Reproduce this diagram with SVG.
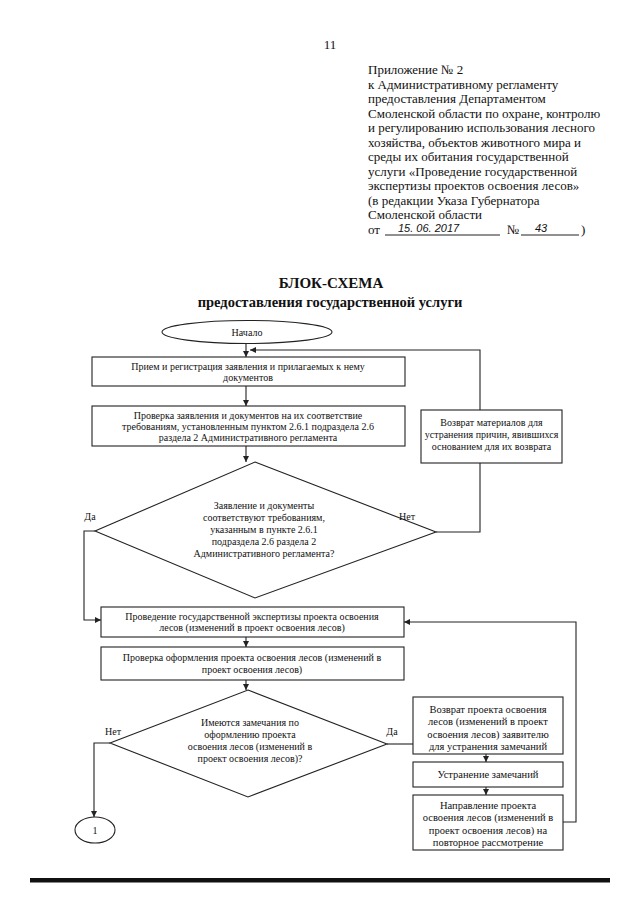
<svg xmlns="http://www.w3.org/2000/svg" width="640" height="905" viewBox="0 0 640 905">
<style>
.h{font-family:"Liberation Serif","Times New Roman",serif;font-size:13px;fill:#111}
.hw{font-family:"Liberation Sans",Arial,sans-serif;font-style:italic;font-size:11px;fill:#111}
.tb{font-family:"Liberation Serif","Times New Roman",serif;font-weight:bold;fill:#111;text-anchor:middle}
.t{font-family:"Liberation Serif","Times New Roman",serif;font-size:10px;fill:#111;text-anchor:middle}
.t2{font-family:"Liberation Serif","Times New Roman",serif;font-size:10.5px;fill:#111;text-anchor:middle}
.box{fill:#fff;stroke:#222;stroke-width:1.1}
.ln{fill:none;stroke:#222;stroke-width:1.1}
</style>
<defs>
<marker id="ah" viewBox="0 0 10 10" refX="10" refY="5" markerWidth="6" markerHeight="6" orient="auto" markerUnits="userSpaceOnUse">
<path d="M0,0 L10,5 L0,10 z" fill="#222"/>
</marker>
</defs>
<rect width="640" height="905" fill="#fff"/>

<g id="header">
<text class="h" x="330" y="49" text-anchor="middle">11</text>
<text class="h" x="368" y="74">Приложение № 2</text>
<text class="h" x="368" y="88.5">к Административному регламенту</text>
<text class="h" x="368" y="103">предоставления Департаментом</text>
<text class="h" x="368" y="117.5">Смоленской области по охране, контролю</text>
<text class="h" x="368" y="132">и регулированию использования лесного</text>
<text class="h" x="368" y="146.5">хозяйства, объектов животного мира и</text>
<text class="h" x="368" y="161">среды их обитания государственной</text>
<text class="h" x="368" y="175.5">услуги «Проведение государственной</text>
<text class="h" x="368" y="190">экспертизы проектов освоения лесов»</text>
<text class="h" x="368" y="204.5">(в редакции Указа Губернатора</text>
<text class="h" x="368" y="219">Смоленской области</text>
<text class="h" x="368" y="234">от</text>
<line x1="385" y1="235" x2="500" y2="235" stroke="#222" stroke-width="1"/>
<text class="hw" x="398" y="232">15. 06. 2017</text>
<text class="h" x="507" y="234">№</text>
<line x1="521" y1="235" x2="579" y2="235" stroke="#222" stroke-width="1"/>
<text class="hw" x="535" y="232">43</text>
<text class="h" x="581" y="234">)</text>
</g>

<g id="title">
<text class="tb" x="331" y="288" font-size="15">БЛОК-СХЕМА</text>
<text class="tb" x="330" y="307" font-size="14.5">предоставления государственной услуги</text>
</g>

<g id="connectors">
<line class="ln" x1="246" y1="343" x2="246" y2="357" marker-end="url(#ah)"/>
<polyline class="ln" points="480,410 480,350 250,350" marker-end="url(#ah)"/>
<line class="ln" x1="246" y1="386" x2="246" y2="406" marker-end="url(#ah)"/>
<line class="ln" x1="246" y1="446" x2="246" y2="462" marker-end="url(#ah)"/>
<polyline class="ln" points="436,532 480,532 480,463"/>
<polyline class="ln" points="95,531 84,531 84,620 101,620" marker-end="url(#ah)"/>
<polyline class="ln" points="563,822 576,822 576,622 404,622" marker-end="url(#ah)"/>
<line class="ln" x1="246" y1="637" x2="246" y2="647" marker-end="url(#ah)"/>
<line class="ln" x1="246" y1="680" x2="246" y2="690" marker-end="url(#ah)"/>
<line class="ln" x1="387" y1="744" x2="413" y2="744"/>
<polyline class="ln" points="110,743 94,743 94,817" marker-end="url(#ah)"/>
<line class="ln" x1="486" y1="754" x2="486" y2="762" marker-end="url(#ah)"/>
<line class="ln" x1="486" y1="787" x2="486" y2="795" marker-end="url(#ah)"/>
</g>

<g id="start">
<ellipse class="box" cx="247" cy="332" rx="85" ry="11.5"/>
<text class="t" x="247" y="335.5">Начало</text>
</g>

<g id="box1">
<rect class="box" x="92" y="357" width="313" height="29"/>
<text class="t" x="248" y="370">Прием и регистрация заявления и прилагаемых к нему</text>
<text class="t" x="248" y="381">документов</text>
</g>

<g id="box2">
<rect class="box" x="92" y="406" width="313" height="40"/>
<text class="t" x="248" y="418.5">Проверка заявления и документов на их соответствие</text>
<text class="t" x="248" y="429.5">требованиям, установленным пунктом 2.6.1 подраздела 2.6</text>
<text class="t" x="248" y="440.5">раздела 2 Административного регламента</text>
</g>

<g id="return1">
<rect class="box" x="421" y="410" width="141" height="53"/>
<text class="t" x="491.5" y="426">Возврат материалов для</text>
<text class="t" x="491.5" y="438">устранения причин, явившихся</text>
<text class="t" x="491.5" y="450">основанием для их возврата</text>
</g>

<g id="decision1">
<polygon class="box" points="255,462 436,532 255,598 95,531"/>
<text class="t" x="264" y="508.5">Заявление и документы</text>
<text class="t" x="264" y="520.5">соответствуют требованиям,</text>
<text class="t" x="264" y="532.5">указанным в пункте 2.6.1</text>
<text class="t" x="264" y="544.5">подраздела 2.6 раздела 2</text>
<text class="t" x="264" y="556.5">Административного регламента?</text>
<text class="t" x="90" y="520">Да</text>
<text class="t" x="407" y="520">Нет</text>
</g>

<g id="box3">
<rect class="box" x="101" y="607" width="303" height="30"/>
<text class="t" x="252" y="619.5">Проведение государственной экспертизы проекта освоения</text>
<text class="t" x="252" y="631">лесов (изменений в проект освоения лесов)</text>
</g>

<g id="box4">
<rect class="box" x="101" y="647" width="303" height="33"/>
<text class="t" x="252" y="661">Проверка оформления проекта освоения лесов (изменений в</text>
<text class="t" x="252" y="673">проект освоения лесов)</text>
</g>

<g id="decision2">
<polygon class="box" points="248,690 387,744 248,797 110,743"/>
<text class="t" x="250" y="725.5">Имеются замечания по</text>
<text class="t" x="250" y="737.5">оформлению проекта</text>
<text class="t" x="250" y="749.5">освоения лесов (изменений в</text>
<text class="t" x="250" y="761.5">проект освоения лесов)?</text>
<text class="t" x="113" y="735">Нет</text>
<text class="t" x="392" y="735">Да</text>
</g>

<g id="return2">
<rect class="box" x="413" y="697" width="150" height="57"/>
<text class="t2" x="488" y="712.5">Возврат проекта освоения</text>
<text class="t2" x="488" y="725">лесов (изменений в проект</text>
<text class="t2" x="488" y="737.5">освоения лесов) заявителю</text>
<text class="t2" x="488" y="750">для устранения замечаний</text>
</g>

<g id="fix">
<rect class="box" x="413" y="762" width="150" height="25"/>
<text class="t2" x="488" y="778">Устранение замечаний</text>
</g>

<g id="resend">
<rect class="box" x="413" y="795" width="150" height="55"/>
<text class="t2" x="488" y="808.5">Направление проекта</text>
<text class="t2" x="488" y="821">освоения лесов (изменений в</text>
<text class="t2" x="488" y="833.5">проект освоения лесов) на</text>
<text class="t2" x="488" y="846">повторное рассмотрение</text>
</g>

<g id="connector1">
<ellipse class="box" cx="95" cy="830" rx="20" ry="13"/>
<text class="t" x="95" y="834" font-size="11">1</text>
</g>

<rect x="30" y="878" width="580" height="4.5" fill="#111"/>
</svg>
